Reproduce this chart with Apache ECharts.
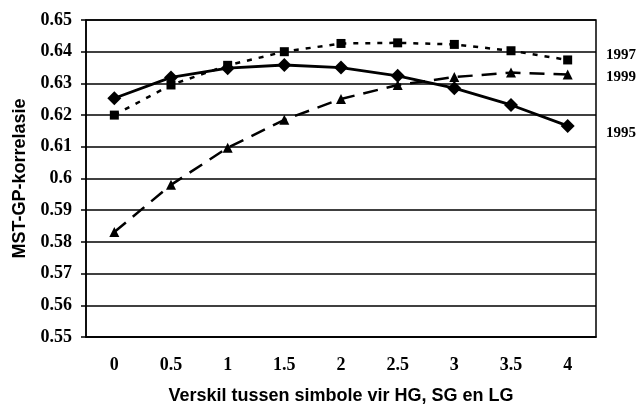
<!DOCTYPE html>
<html><head><meta charset="utf-8">
<script src="https://cdn.jsdelivr.net/npm/echarts@6/dist/echarts.min.js"></script>
<style>html,body{margin:0;padding:0;background:#fff}#c{width:638px;height:404px}</style>
</head><body><div id="c"></div>
<script>
const categories = ['0','0.5','1','1.5','2','2.5','3','3.5','4'];
const s1995 = [0.6253,0.6319,0.6348,0.6358,0.6350,0.6324,0.6285,0.6232,0.6166];
const s1997 = [0.6200,0.6295,0.6357,0.6400,0.6426,0.6428,0.6423,0.6403,0.6374];
const s1999 = [0.5831,0.5980,0.6097,0.6185,0.6251,0.6295,0.6320,0.6334,0.6328];
const yTicks = {min:0.55, max:0.65, interval:0.01};

const chart = echarts.init(document.getElementById('c'));
const serifBold = {fontFamily:'Liberation Serif', fontWeight:'bold', fontSize:18, color:'#000'};
const yearStyle = {fontFamily:'Liberation Serif', fontWeight:'bold', fontSize:15, fill:'#000'};
chart.setOption({
  animation:false,
  grid:{left:86, right:42, top:20, bottom:67, containLabel:false, outerBoundsMode:'none',
    show:true, borderColor:'#000', borderWidth:1.5},
  xAxis:{type:'category', data:categories, boundaryGap:true,
    name:'Verskil tussen simbole vir HG, SG en LG', nameLocation:'middle', nameGap:50,
    nameTextStyle:{fontFamily:'Liberation Sans', fontWeight:'bold', fontSize:18, color:'#000'},
    axisLine:{lineStyle:{color:'#000', width:1.5}},
    axisTick:{length:5, lineStyle:{color:'#000', width:1.5}},
    axisLabel:Object.assign({margin:19}, serifBold)},
  yAxis:{type:'value', min:yTicks.min, max:yTicks.max, interval:yTicks.interval,
    name:'MST-GP-korrelasie', nameLocation:'middle', nameGap:57,
    nameTextStyle:{fontFamily:'Liberation Sans', fontWeight:'bold', fontSize:18, color:'#000'},
    axisLine:{show:true, lineStyle:{color:'#000', width:1.5}},
    axisTick:{show:true, length:5, lineStyle:{color:'#000', width:1.5}},
    splitLine:{lineStyle:{color:'#000', width:1.5}},
    axisLabel:Object.assign({margin:14, formatter:v=>String(+v.toFixed(2))}, serifBold)},
  series:[
    {name:'1995', type:'line', data:s1995, symbol:'diamond', symbolSize:14,
      lineStyle:{color:'#000', width:2.8}, itemStyle:{color:'#000'}, z:3},
    {name:'1997', type:'line', data:s1997, symbol:'rect', symbolSize:9,
      lineStyle:{color:'#000', width:2.5, type:[5,7]}, itemStyle:{color:'#000'}, z:2},
    {name:'1999', type:'line', data:s1999, symbol:'triangle', symbolSize:10,
      lineStyle:{color:'#000', width:2.5, type:[15,9]}, itemStyle:{color:'#000'}, z:2}
  ],
  graphic:[
    {type:'text', left:606, top:48, style:Object.assign({text:'1997'}, yearStyle)},
    {type:'text', left:606, top:70, style:Object.assign({text:'1999'}, yearStyle)},
    {type:'text', left:606, top:126, style:Object.assign({text:'1995'}, yearStyle)}
  ]
});
</script></body></html>
